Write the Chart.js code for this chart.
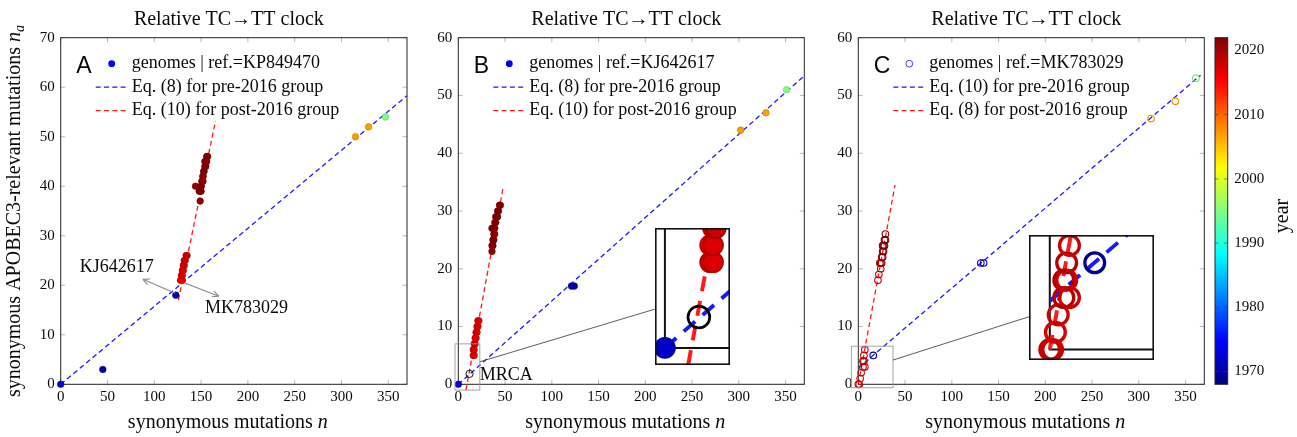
<!DOCTYPE html>
<html>
<head>
<meta charset="utf-8">
<title>Relative TC→TT clock</title>
<script src="https://cdn.jsdelivr.net/npm/chart.js@4.4.1/dist/chart.umd.min.js"></script>
<style>
  html, body { margin: 0; padding: 0; background: #fff; }
  #page { position: relative; width: 1297px; height: 437px; overflow: hidden; }
  .panel { position: absolute; top: 0; height: 437px; }
  .panel canvas { position: absolute; left: 0; top: 0; }
  .inset { position: absolute; }
</style>
</head>
<body>
<div id="page">
  <div class="panel" id="boxA" style="left:0;width:420px"><canvas id="chartA" width="420" height="437"></canvas></div>
  <div class="panel" id="boxB" style="left:420px;width:400px"><canvas id="chartB" width="400" height="437"></canvas></div>
  <div class="panel" id="boxC" style="left:820px;width:385px"><canvas id="chartC" width="385" height="437"></canvas></div>
  <div class="panel" id="boxBar" style="left:1205px;width:92px"><canvas id="colorbar" width="92" height="437"></canvas></div>
</div>
<script>
// ===== Data =====

const yearMin = 1968, yearMax = 2022;
const xTicks = [0, 50, 100, 150, 200, 250, 300, 350];
const yTicksA = [0, 10, 20, 30, 40, 50, 60, 70];
const yTicksBC = [0, 10, 20, 30, 40, 50, 60];
const yearTicks = [1970, 1980, 1990, 2000, 2010, 2020];

// panel A, ref. = KP849470
const aN = [0, 45, 123, 315, 329, 347,
  128, 129, 130, 129, 130, 130, 131, 131, 132, 132, 133, 134, 135,
  144, 149, 148, 149, 150, 150, 151, 151, 152, 152, 153, 153, 154, 155, 154, 155, 156, 156, 157, 150, 152];
const aNa = [0, 3, 18, 50, 52, 54,
  21, 21, 21, 22, 22, 23, 23, 24, 24, 25, 25, 26, 26,
  40, 37, 39, 39, 40, 40, 41, 41, 42, 42, 43, 43, 44, 44, 45, 45, 45, 46, 46, 39, 41];
const aYear = [1973, 1970, 1970, 2007, 2007, 1995,
  2017, 2017, 2016, 2017, 2017, 2018, 2017, 2017, 2018, 2017, 2018, 2017, 2018,
  2021, 2021, 2022, 2021, 2022, 2022, 2021, 2022, 2022, 2021, 2022, 2022, 2021, 2022, 2022, 2022, 2021, 2022, 2022, 2022, 2021];
const aPreFitN = [0, 370], aPreFitNa = [0, 58.3];
const aPostFitN = [125.7, 165.4], aPostFitNa = [17, 53.2];
const aArrowFromN = [122.5, 133.2], aArrowFromNa = [18.4, 20.4];
const aArrowToN = [87.9, 168.9], aArrowToNa = [21.2, 17.8];
const aNoteText = ["KJ642617", "MK783029"];
const aNoteN = [60, 198.5], aNoteNa = [23.7, 15.3];

// panel B, ref. = KJ642617
const bN = [0, 121, 124, 302, 329, 351,
  16, 17, 16, 17, 17, 18, 18, 19, 19, 20, 20, 21, 21, 22,
  36, 36, 37, 37, 38, 38, 37, 38, 39, 39, 40, 40, 41, 42, 42, 43, 44, 45, 36, 39];
const bNa = [0, 17, 17, 44, 47, 51,
  5, 5, 6, 6, 7, 7, 8, 8, 9, 9, 10, 10, 11, 11,
  23, 24, 24, 25, 25, 26, 27, 27, 27, 28, 28, 29, 29, 29, 30, 30, 31, 31, 27, 26];
const bYear = [1972, 1970, 1970, 2007, 2007, 1995,
  2017, 2017, 2016, 2017, 2017, 2018, 2017, 2017, 2018, 2017, 2018, 2017, 2018, 2017,
  2021, 2021, 2022, 2021, 2022, 2022, 2021, 2022, 2022, 2021, 2022, 2022, 2021, 2022, 2022, 2022, 2021, 2022, 2022, 2021];
const bMrcaN = [12], bMrcaNa = [1.8];
const bPreFitN = [0, 370], bPreFitNa = [0, 53.4];
const bPostFitN = [8.2, 48.2], bPostFitNa = [-1, 34.3];

// panel C, ref. = MK783029
const cN = [16, 131, 134, 313, 339, 361,
  0, 1, 2, 3, 5, 7, 5, 6, 6, 7,
  21, 22, 24, 24, 25, 25, 26, 26, 27, 27, 28, 28, 29, 29, 23, 26];
const cNa = [5, 21, 21, 46, 49, 53,
  0, 0, 1, 2, 3, 3, 4, 4, 5, 6,
  18, 19, 20, 21, 21, 22, 22, 23, 23, 24, 24, 25, 25, 26, 21, 24];
const cYear = [1970, 1972, 1972, 2007, 2007, 1995,
  2017, 2017, 2016, 2017, 2018, 2017, 2018, 2017, 2018, 2017,
  2017, 2017, 2018, 2019, 2019, 2020, 2020, 2021, 2021, 2022, 2021, 2022, 2022, 2022, 2019, 2021];
const cPreFitN = [0, 366], cPreFitNa = [2.8, 53.5];
const cPostFitN = [0, 39.3], cPostFitNa = [0, 34.5];

// zoomed insets: region shown, and where the inset sits (main data coords)
const bZoomN = [-3.5, 23], bZoomNa = [-1, 7];
const bInsetN = [210, 290], bInsetNa = [3.2, 27];
const bLinkFrom = [23, 3.9], bLinkTo = [210, 13];
const cZoomN = [-7.4, 37.1], cZoomNa = [-0.6, 6.6];
const cInsetN = [182.7, 316.2], cInsetNa = [4.2, 25.8];
const cLinkFrom = [37.1, 4.2], cLinkTo = [182.7, 11.7];

// ===== Helpers =====

const SERIF = '"Liberation Serif", "DejaVu Serif", serif';
const BLUE = "rgb(25,25,255)";
const RED = "rgb(255,25,25)";
const INK = "#0a0a0a";

function jetRGB(year) {
  const t = Math.min(1, Math.max(0, (year - yearMin) / (yearMax - yearMin)));
  const c = v => Math.min(1, Math.max(0, v));
  return [c(1.5 - Math.abs(4 * t - 3)), c(1.5 - Math.abs(4 * t - 2)), c(1.5 - Math.abs(4 * t - 1))];
}
function jet(year, f = 1) {
  const [r, g, b] = jetRGB(year);
  return `rgb(${Math.round(255 * r * f)},${Math.round(255 * g * f)},${Math.round(255 * b * f)})`;
}

function xy(xs, ys) {
  return xs.map((v, i) => ({ x: v, y: ys[i] }));
}

function fitLine(xs, ys, color, k, clip) {
  return {
    type: "line", data: xy(xs, ys), order: 1, clip,
    borderColor: color, borderWidth: 1.3 * k, borderDash: [5 * k, 3.3 * k],
    pointRadius: 0, fill: false
  };
}

function buildSets(p, k, clip) {
  const sets = [{
    type: "scatter", data: xy(p.n, p.na), order: 0, clip,
    pointRadius: 3.3 * k,
    pointBorderWidth: (p.open ? 1.1 : 0.6) * k,
    pointBackgroundColor: p.year.map(y => p.open ? "rgba(0,0,0,0)" : jet(y)),
    pointBorderColor: p.year.map(y => p.open ? jet(y, 0.9) : jet(y, 0.8))
  }];
  if (p.mrca) {
    sets.push({
      type: "scatter", data: xy(p.mrca[0], p.mrca[1]), order: 0, clip,
      pointRadius: 3.6 * k, pointBorderWidth: 0.9 * k,
      pointBackgroundColor: "rgba(0,0,0,0)", pointBorderColor: "#000"
    });
  }
  sets.push(fitLine(p.preFit[0], p.preFit[1], BLUE, k, clip));
  sets.push(fitLine(p.postFit[0], p.postFit[1], RED, k, clip));
  return sets;
}

// text with italic / subscript pieces
function drawRich(ctx, parts, x, y, size, rot) {
  ctx.save();
  ctx.translate(x, y);
  if (rot) ctx.rotate(rot);
  ctx.textBaseline = "middle";
  ctx.textAlign = "left";
  const fontOf = s => (s.includes("i") ? "italic " : "") + (s.includes("s") ? size * 0.7 : size) + "px " + SERIF;
  let total = 0;
  parts.forEach(([t, s]) => { ctx.font = fontOf(s); total += ctx.measureText(t).width; });
  let cx = -total / 2;
  parts.forEach(([t, s]) => {
    ctx.font = fontOf(s);
    ctx.fillText(t, cx, s.includes("s") ? size * 0.28 : 0);
    cx += ctx.measureText(t).width;
  });
  ctx.restore();
}

function line(ctx, x1, y1, x2, y2) {
  ctx.beginPath(); ctx.moveTo(x1, y1); ctx.lineTo(x2, y2); ctx.stroke();
}

function arrow(ctx, x1, y1, x2, y2) {
  line(ctx, x1, y1, x2, y2);
  const ang = Math.atan2(y2 - y1, x2 - x1);
  [0.45, -0.45].forEach(d => line(ctx, x2, y2, x2 - 7 * Math.cos(ang + d), y2 - 7 * Math.sin(ang + d)));
}

// ===== Panel decorations (frame, ticks, legend, labels) =====

function makeDecor(d) {
  return {
    id: "decor",
    beforeDatasetsDraw(chart) {
      const { ctx, chartArea: a, scales: { x, y } } = chart;
      ctx.save();
      ctx.strokeStyle = "#b8b8b8"; ctx.lineWidth = 1;
      x.ticks.forEach(t => {
        const px = x.getPixelForValue(t.value);
        line(ctx, px, a.bottom, px, a.bottom - 4.5);
        line(ctx, px, a.top, px, a.top + 4.5);
      });
      y.ticks.forEach(t => {
        const py = y.getPixelForValue(t.value);
        line(ctx, a.left, py, a.left + 4.5, py);
        line(ctx, a.right, py, a.right - 4.5, py);
      });
      ctx.strokeStyle = "#222"; ctx.lineWidth = 1;
      ctx.strokeRect(a.left, a.top, a.width, a.height);
      ctx.restore();
    },
    afterDatasetsDraw(chart) {
      const { ctx, scales: { x, y } } = chart;
      ctx.save();
      if (d.zoomBox) {
        const [n, na] = d.zoomBox;
        ctx.strokeStyle = "#9a9a9a"; ctx.lineWidth = 0.9;
        const l = x.getPixelForValue(n[0]), r = x.getPixelForValue(n[1]);
        const t = y.getPixelForValue(na[1]), b = y.getPixelForValue(na[0]);
        ctx.strokeRect(l, t, r - l, b - t);
        ctx.strokeStyle = "#333"; ctx.lineWidth = 0.8;
        line(ctx, x.getPixelForValue(d.link[0][0]), y.getPixelForValue(d.link[0][1]),
          x.getPixelForValue(d.link[1][0]), y.getPixelForValue(d.link[1][1]));
      }
      if (d.arrows) {
        ctx.strokeStyle = "#8a8a8a"; ctx.lineWidth = 1.1;
        const [fn, fna, tn, tna] = d.arrows;
        fn.forEach((v, i) => arrow(ctx, x.getPixelForValue(v), y.getPixelForValue(fna[i]),
          x.getPixelForValue(tn[i]), y.getPixelForValue(tna[i])));
      }
      if (d.notes) {
        ctx.fillStyle = INK; ctx.font = "18px " + SERIF; ctx.textBaseline = "middle";
        const [txt, nn, nna, align] = d.notes;
        ctx.textAlign = align;
        txt.forEach((s, i) => ctx.fillText(s, x.getPixelForValue(nn[i]), y.getPixelForValue(nna[i])));
      }
      ctx.restore();
    },
    afterDraw(chart) {
      const { ctx, chartArea: a } = chart;
      const mid = (a.left + a.right) / 2;
      ctx.save();
      ctx.fillStyle = INK;
      drawRich(ctx, [[d.title, ""]], mid - 5, 20, 20);
      drawRich(ctx, [["synonymous mutations ", ""], ["n", "i"]], mid - 6, 423, 20);
      if (d.yLabel) {
        drawRich(ctx, [["synonymous APOBEC3-relevant mutations ", ""], ["n", "i"], ["a", "is"]],
          15, (a.top + a.bottom) / 2, 20, -Math.PI / 2);
      }
      // panel letter
      ctx.font = "23px \"Liberation Sans\", Arial, sans-serif";
      ctx.textAlign = "left"; ctx.textBaseline = "alphabetic";
      ctx.fillText(d.letter, a.left + 15.5, a.top + 35.5);
      // legend
      d.legend.forEach((item, i) => {
        const ly = a.top + 26 + i * 23.5;
        if (item.kind === "dot" || item.kind === "ring") {
          ctx.beginPath(); ctx.arc(a.left + 51, ly, 3.4, 0, Math.PI * 2);
          if (item.kind === "dot") { ctx.fillStyle = item.color; ctx.fill(); }
          else { ctx.strokeStyle = item.color; ctx.lineWidth = 0.9; ctx.stroke(); }
        } else {
          ctx.strokeStyle = item.color; ctx.lineWidth = 1.3; ctx.setLineDash([5, 3.3]);
          line(ctx, a.left + 35, ly, a.left + 66, ly);
          ctx.setLineDash([]);
        }
        ctx.fillStyle = INK; ctx.font = "18px " + SERIF;
        ctx.textAlign = "left"; ctx.textBaseline = "middle";
        ctx.fillText(item.text, a.left + 71, ly);
      });
      ctx.restore();
    }
  };
}

function axis(min, max, ticks, fit, pad) {
  return {
    type: "linear", min, max,
    afterBuildTicks: s => { s.ticks = ticks.map(v => ({ value: v })); },
    afterFit: s => { if (s.isHorizontal()) s.height = fit; else s.width = fit; },
    grid: { display: false, drawTicks: false },
    border: { display: false },
    ticks: { autoSkip: false, maxRotation: 0, padding: pad, color: INK, font: { family: SERIF, size: 15 } }
  };
}

function makePanel(id, p, yMax, yTicks, layout, decor) {
  return new Chart(document.getElementById(id), {
    type: "scatter",
    data: { datasets: buildSets(p, 1, false) },
    options: {
      responsive: false, animation: false, events: [],
      layout: { autoPadding: false, padding: { left: 0, right: layout.right, top: 37.7, bottom: 0 } },
      plugins: { legend: { display: false }, tooltip: { enabled: false } },
      scales: {
        x: axis(0, 370, xTicks, 437 - 384.3, 3.5),
        y: axis(0, yMax, yTicks, layout.left, 6)
      }
    },
    plugins: [makeDecor(decor)]
  });
}

function addInset(main, boxId, p, zoomN, zoomNa, placeN, placeNa) {
  const xs = main.scales.x, ys = main.scales.y;
  const left = xs.getPixelForValue(placeN[0]), right = xs.getPixelForValue(placeN[1]);
  const top = ys.getPixelForValue(placeNa[1]), bottom = ys.getPixelForValue(placeNa[0]);
  const div = document.createElement("div");
  div.className = "inset";
  div.style.left = left + "px";
  div.style.top = top + "px";
  const cv = document.createElement("canvas");
  cv.width = Math.round(right - left);
  cv.height = Math.round(bottom - top);
  div.appendChild(cv);
  document.getElementById(boxId).appendChild(div);
  const k = (right - left) / (zoomN[1] - zoomN[0]) / ((xs.getPixelForValue(10) - xs.getPixelForValue(0)) / 10);

  new Chart(cv, {
    type: "scatter",
    data: { datasets: buildSets(p, k, 0) },
    options: {
      responsive: false, animation: false, events: [],
      layout: { autoPadding: false, padding: 0 },
      plugins: { legend: { display: false }, tooltip: { enabled: false } },
      scales: {
        x: { type: "linear", min: zoomN[0], max: zoomN[1], display: false },
        y: { type: "linear", min: zoomNa[0], max: zoomNa[1], display: false }
      }
    },
    plugins: [{
      id: "insetFrame",
      beforeDraw(c) {
        c.ctx.save(); c.ctx.fillStyle = "#fff"; c.ctx.fillRect(0, 0, c.width, c.height); c.ctx.restore();
      },
      beforeDatasetsDraw(c) {
        const { ctx, scales: { x, y } } = c;
        ctx.save(); ctx.strokeStyle = "#111"; ctx.lineWidth = 2;
        ctx.beginPath();
        ctx.moveTo(x.getPixelForValue(0), y.getPixelForValue(zoomNa[1]));
        ctx.lineTo(x.getPixelForValue(0), y.getPixelForValue(0));
        ctx.lineTo(x.getPixelForValue(zoomN[1]), y.getPixelForValue(0));
        ctx.stroke(); ctx.restore();
      },
      afterDraw(c) {
        const ctx = c.ctx;
        ctx.save(); ctx.strokeStyle = "#111"; ctx.lineWidth = 1.6;
        ctx.strokeRect(0.8, 0.8, c.width - 1.6, c.height - 1.6); ctx.restore();
      }
    }]
  });
}

// ===== Build the three panels =====

const panelA = { n: aN, na: aNa, year: aYear, open: false,
  preFit: [aPreFitN, aPreFitNa], postFit: [aPostFitN, aPostFitNa] };
const panelB = { n: bN, na: bNa, year: bYear, open: false, mrca: [bMrcaN, bMrcaNa],
  preFit: [bPreFitN, bPreFitNa], postFit: [bPostFitN, bPostFitNa] };
const panelC = { n: cN, na: cNa, year: cYear, open: true,
  preFit: [cPreFitN, cPreFitNa], postFit: [cPostFitN, cPostFitNa] };

const title = "Relative TC\u2192TT clock";

makePanel("chartA", panelA, 70, yTicksA, { left: 60.7, right: 13 }, {
  title, yLabel: true, letter: "A",
  legend: [
    { kind: "dot", color: "rgb(0,0,255)", text: "genomes | ref.=KP849470" },
    { kind: "dash", color: BLUE, text: "Eq. (8) for pre-2016 group" },
    { kind: "dash", color: RED, text: "Eq. (10) for post-2016 group" }
  ],
  arrows: [aArrowFromN, aArrowFromNa, aArrowToN, aArrowToNa],
  notes: [aNoteText, aNoteN, aNoteNa, "center"]
});

const chartB = makePanel("chartB", panelB, 60, yTicksBC, { left: 38.3, right: 15.7 }, {
  title, yLabel: false, letter: "B",
  legend: [
    { kind: "dot", color: "rgb(0,0,255)", text: "genomes | ref.=KJ642617" },
    { kind: "dash", color: BLUE, text: "Eq. (8) for pre-2016 group" },
    { kind: "dash", color: RED, text: "Eq. (10) for post-2016 group" }
  ],
  notes: [["MRCA"], [23], [1.6], "left"],
  zoomBox: [bZoomN, bZoomNa], link: [bLinkFrom, bLinkTo]
});

const chartC = makePanel("chartC", panelC, 60, yTicksBC, { left: 38.3, right: 0.7 }, {
  title, yLabel: false, letter: "C",
  legend: [
    { kind: "ring", color: "rgb(40,40,255)", text: "genomes | ref.=MK783029" },
    { kind: "dash", color: BLUE, text: "Eq. (10) for pre-2016 group" },
    { kind: "dash", color: RED, text: "Eq. (8) for post-2016 group" }
  ],
  zoomBox: [cZoomN, cZoomNa], link: [cLinkFrom, cLinkTo]
});

addInset(chartB, "boxB", panelB, bZoomN, bZoomNa, bInsetN, bInsetNa);
addInset(chartC, "boxC", panelC, cZoomN, cZoomNa, cInsetN, cInsetNa);

// ===== Colour bar =====

new Chart(document.getElementById("colorbar"), {
  type: "bar",
  data: {
    labels: ["year"],
    datasets: [{
      data: [[yearMin, yearMax]],
      barPercentage: 1, categoryPercentage: 1, borderWidth: 0,
      backgroundColor: c => {
        const ys = c.chart.scales.y;
        if (!ys || !c.chart.chartArea) return jet(1995);
        const g = c.chart.ctx.createLinearGradient(0, ys.getPixelForValue(yearMin), 0, ys.getPixelForValue(yearMax));
        for (let i = 0; i <= 8; i++) g.addColorStop(i / 8, jet(yearMin + (i / 8) * (yearMax - yearMin)));
        return g;
      }
    }]
  },
  options: {
    responsive: false, animation: false, events: [],
    layout: { autoPadding: false, padding: { left: 10, right: 0, top: 37.7, bottom: 437 - 384.3 } },
    plugins: { legend: { display: false }, tooltip: { enabled: false } },
    scales: {
      x: { display: false },
      y: {
        position: "right", min: yearMin, max: yearMax,
        afterBuildTicks: s => { s.ticks = yearTicks.map(v => ({ value: v })); },
        afterFit: s => { s.width = 92 - 22.7; },
        grid: { display: false, drawTicks: false },
        border: { display: false },
        ticks: { padding: 6.6, color: INK, font: { family: SERIF, size: 15 }, callback: v => String(v) }
      }
    }
  },
  plugins: [{
    id: "barFrame",
    afterDraw(chart) {
      const { ctx, chartArea: a, scales: { y } } = chart;
      ctx.save();
      ctx.strokeStyle = "rgba(60,60,60,0.6)"; ctx.lineWidth = 1;
      y.ticks.forEach(t => {
        const py = y.getPixelForValue(t.value);
        line(ctx, a.left, py, a.left + 3.5, py);
        line(ctx, a.right, py, a.right - 3.5, py);
      });
      ctx.strokeStyle = "#222";
      ctx.strokeRect(a.left, a.top, a.width, a.height);
      ctx.fillStyle = INK;
      drawRich(ctx, [["year", ""]], 78, 216, 20, -Math.PI / 2);
      ctx.restore();
    }
  }]
});
</script>
</body>
</html>
